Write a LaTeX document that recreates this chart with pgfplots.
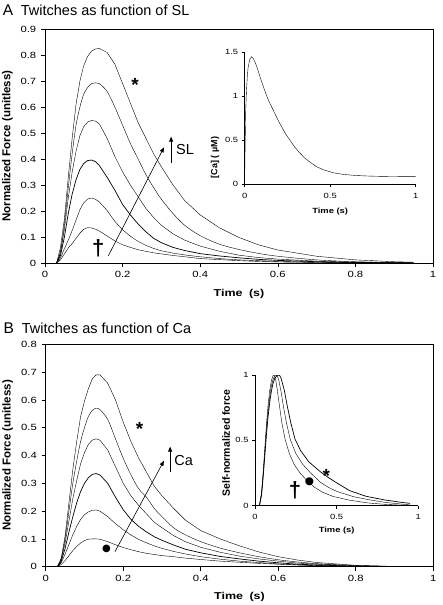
\documentclass[border=0pt]{standalone}
\usepackage{fontspec}
\setmainfont{Liberation Sans}
\newfontfamily\sfs[FakeStretch=1.25]{Liberation Sans}
\newfontfamily\djv{DejaVu Sans}
\usepackage{pgfplots}
\pgfplotsset{compat=1.18}
\usepackage{pgfplotstable}
\usetikzlibrary{arrows.meta}

\pgfplotstableread{
t c1 c2 c3 c4 c5 c6
0.03 0 0 0 0 0 0
0.04 0.012 0.02 0.03 0.04 0.045 0.06
0.05 0.035 0.055 0.10 0.13 0.15 0.17
0.06 0.058 0.088 0.19 0.25 0.29 0.33
0.07 0.075 0.125 0.265 0.35 0.42 0.48
0.08 0.095 0.165 0.32 0.43 0.53 0.61
0.09 0.115 0.205 0.36 0.49 0.60 0.70
0.10 0.13 0.232 0.383 0.525 0.65 0.76
0.11 0.136 0.246 0.394 0.542 0.675 0.795
0.12 0.135 0.25 0.396 0.548 0.69 0.815
0.13 0.13 0.245 0.39 0.546 0.693 0.823
0.14 0.123 0.235 0.375 0.535 0.69 0.825
0.16 0.104 0.202 0.33 0.48 0.66 0.81
0.18 0.085 0.16 0.28 0.41 0.60 0.765
0.20 0.07 0.128 0.225 0.35 0.53 0.69
0.22 0.06 0.103 0.185 0.30 0.46 0.615
0.24 0.051 0.083 0.15 0.255 0.40 0.54
0.26 0.045 0.068 0.12 0.21 0.34 0.48
0.28 0.039 0.056 0.095 0.175 0.29 0.42
0.30 0.035 0.047 0.078 0.145 0.245 0.37
0.33 0.029 0.038 0.06 0.112 0.19 0.30
0.36 0.024 0.031 0.048 0.088 0.145 0.24
0.40 0.017 0.024 0.036 0.065 0.105 0.185
0.45 0.013 0.017 0.027 0.045 0.072 0.135
0.50 0.009 0.012 0.02 0.03 0.052 0.098
0.55 0.006 0.009 0.014 0.021 0.037 0.07
0.60 0.004 0.006 0.01 0.015 0.026 0.05
0.70 0.002 0.003 0.005 0.007 0.012 0.026
0.80 0.001 0.001 0.002 0.003 0.005 0.012
0.90 0 0 0.001 0.001 0.002 0.005
0.95 0 0 0 0 0.001 0.003
}\tabA

\pgfplotstableread{
t c1 c2 c3 c4 c5 c6
0.03 0 0 0 0 0 0
0.04 0.008 0.014 0.02 0.025 0.028 0.03
0.05 0.022 0.045 0.065 0.085 0.10 0.11
0.06 0.04 0.08 0.125 0.165 0.20 0.23
0.07 0.058 0.115 0.18 0.245 0.30 0.35
0.08 0.073 0.145 0.23 0.31 0.38 0.45
0.09 0.085 0.17 0.27 0.37 0.45 0.54
0.10 0.094 0.187 0.30 0.41 0.50 0.595
0.11 0.099 0.197 0.32 0.44 0.54 0.64
0.12 0.1 0.203 0.332 0.455 0.562 0.675
0.13 0.1 0.204 0.335 0.46 0.57 0.69
0.14 0.099 0.2 0.33 0.455 0.565 0.69
0.16 0.09 0.18 0.30 0.42 0.53 0.66
0.18 0.079 0.155 0.25 0.36 0.46 0.60
0.20 0.069 0.133 0.205 0.30 0.39 0.52
0.22 0.061 0.114 0.17 0.255 0.33 0.45
0.24 0.054 0.098 0.145 0.22 0.28 0.39
0.26 0.048 0.086 0.125 0.19 0.25 0.34
0.28 0.044 0.075 0.108 0.16 0.21 0.29
0.30 0.04 0.066 0.095 0.14 0.18 0.255
0.33 0.036 0.055 0.078 0.112 0.14 0.21
0.36 0.031 0.046 0.063 0.09 0.115 0.168
0.40 0.026 0.036 0.05 0.07 0.09 0.13
0.45 0.02 0.027 0.037 0.052 0.067 0.10
0.50 0.016 0.02 0.028 0.038 0.05 0.075
0.55 0.012 0.015 0.02 0.028 0.036 0.053
0.60 0.009 0.01 0.014 0.02 0.025 0.036
0.65 0.006 0.007 0.009 0.013 0.017 0.024
0.70 0.004 0.004 0.006 0.009 0.011 0.015
0.80 0.001 0.001 0.002 0.003 0.004 0.005
0.90 0 0 0 0.001 0.001 0.001
0.95 0 0 0 0 0 0
}\tabB

\pgfplotsset{
  common/.style={
    scale only axis, xmin=0, xmax=1, ymin=0,
    tick align=outside, xtick pos=left, ytick pos=left,
    axis line style={black, line width=0.6pt},
    tick style={black, line width=0.6pt},
    /pgf/number format/assume math mode=true,
    cycle list={{black, solid, line width=0.7pt, no marks, smooth, tension=0.4}},
  },
  mainax/.style={common,
    major tick length=4pt,
    xtick={0,0.2,0.4,0.6,0.8,1},
    ticklabel style={font=\sfs\fontsize{9}{10}\selectfont},
    xticklabel style={yshift=-1pt},
    yticklabel style={xshift=-1.3pt},
    ylabel style={font=\bfseries\fontsize{11.5}{12}\selectfont, anchor=center},
    xlabel style={font=\sfs\bfseries\fontsize{10}{12}\selectfont, anchor=center},
  },
  insetax/.style={common,
    axis x line*=bottom, axis y line*=left,
    major tick length=3pt,
    xtick={0,0.5,1},
    ticklabel style={font=\sfs\fontsize{7.5}{8}\selectfont},
    xticklabel style={yshift=-2.5pt},
    xlabel style={font=\sfs\bfseries\fontsize{7.5}{8}\selectfont, anchor=center},
    ylabel style={anchor=center},
  },
}

\begin{document}
\begin{tikzpicture}
\useasboundingbox (0,0) rectangle (442pt,-605pt);

% Titles
\node[anchor=base west, inner sep=0pt, font=\fontsize{15.5}{16}\selectfont] at (2.7pt,-15pt) {A};
\node[anchor=base west, inner sep=0pt, font=\fontsize{14.5}{16}\selectfont] at (20.7pt,-15pt) {Twitches as function of SL};
\node[anchor=base west, inner sep=0pt, font=\fontsize{15.5}{16}\selectfont] at (3.5pt,-333.3pt) {B};
\node[anchor=base west, inner sep=0pt, font=\fontsize{14.5}{16}\selectfont] at (21.7pt,-333.3pt) {Twitches as function of Ca};

% ---------- Panel A main ----------
\begin{axis}[mainax,
  at={(45pt,-263pt)}, anchor=south west, width=388pt, height=234pt,
  ymax=0.9, ytick={0,0.1,0.2,0.3,0.4,0.5,0.6,0.7,0.8,0.9},
  xlabel={Time\hspace{0.3em} (s)}, ylabel={Normalized Force (unitless)},
  xlabel style={at={([yshift=-31pt]axis description cs:0.5,0)}},
  ylabel style={at={([xshift=-37.5pt]axis description cs:0,0.5)}},
]
\addplot table[x=t,y=c1]{\tabA};
\addplot table[x=t,y=c2]{\tabA};
\addplot table[x=t,y=c3]{\tabA};
\addplot table[x=t,y=c4]{\tabA};
\addplot table[x=t,y=c5]{\tabA};
\addplot table[x=t,y=c6]{\tabA};
\node[font=\bfseries\fontsize{19}{19}\selectfont, yshift=-4pt] at (axis cs:0.232,0.70) {*};
\node[font=\bfseries\fontsize{22}{22}\selectfont] at (axis cs:0.1375,0.0565) {†};
\draw[-{Triangle[length=5pt,width=4pt]}, line width=0.6pt] (axis cs:0.163,0.027) -- (axis cs:0.3067,0.445);
\draw[-{Triangle[length=5pt,width=4pt]}, line width=0.6pt] (axis cs:0.325,0.386) -- (axis cs:0.325,0.486);
\node[font=\fontsize{14.5}{15}\selectfont] at (axis cs:0.361,0.435) {SL};
\end{axis}

% ---------- Panel A inset ----------
\begin{axis}[insetax,
  at={(244.7pt,-184.3pt)}, anchor=south west, width=171pt, height=132pt,
  ymax=1.5, ytick={0,0.5,1,1.5},
  xlabel={Time (s)}, ylabel={[Ca] ( µM)},
  xlabel style={at={([yshift=-27.4pt]axis description cs:0.5,0)}},
  ylabel style={at={([xshift=-29.7pt]axis description cs:0,0.203)}, font=\bfseries\fontsize{9}{10}\selectfont},
]
\addplot+[tension=0.3] coordinates {(0,0.09) (0.003,0.5) (0.006,0.85) (0.01,1.05) (0.015,1.22) (0.02,1.33) (0.03,1.42) (0.04,1.45) (0.05,1.43) (0.06,1.39) (0.07,1.34) (0.08,1.28) (0.09,1.22) (0.10,1.16) (0.12,1.05) (0.14,0.95) (0.16,0.87) (0.18,0.79) (0.20,0.71) (0.22,0.64) (0.24,0.57) (0.265,0.50) (0.29,0.43) (0.32,0.36) (0.35,0.30) (0.38,0.255) (0.42,0.20) (0.46,0.165) (0.52,0.13) (0.58,0.112) (0.65,0.10) (0.72,0.094) (0.80,0.09) (0.90,0.088) (1.0,0.087)};
\end{axis}

% ---------- Panel B main ----------
\begin{axis}[mainax,
  at={(45.7pt,-566.7pt)}, anchor=south west, width=387.6pt, height=222.4pt,
  ymax=0.8, ytick={0,0.1,0.2,0.3,0.4,0.5,0.6,0.7,0.8},
  xlabel={Time\hspace{0.3em} (s)}, ylabel={Normalized Force (unitless)},
  xlabel style={at={([yshift=-30pt]axis description cs:0.5,0)}},
  ylabel style={at={([xshift=-38pt]axis description cs:0,0.5)}},
]
\addplot table[x=t,y=c1]{\tabB};
\addplot table[x=t,y=c2]{\tabB};
\addplot table[x=t,y=c3]{\tabB};
\addplot table[x=t,y=c4]{\tabB};
\addplot table[x=t,y=c5]{\tabB};
\addplot table[x=t,y=c6]{\tabB};
\node[font=\bfseries\fontsize{19}{19}\selectfont, yshift=-4pt] at (axis cs:0.242,0.51) {*};
\node[font=\djv\fontsize{10}{10}\selectfont, inner sep=0pt] at (axis cs:0.157,0.064) {●};
\draw[-{Triangle[length=5pt,width=4pt]}, line width=0.6pt] (axis cs:0.1788,0.054) -- (axis cs:0.305,0.381);
\draw[-{Triangle[length=5pt,width=4pt]}, line width=0.6pt] (axis cs:0.321,0.342) -- (axis cs:0.321,0.432);
\node[font=\fontsize{14.5}{15}\selectfont] at (axis cs:0.356,0.381) {Ca};
\end{axis}

% ---------- Panel B inset ----------
\begin{axis}[insetax,
  at={(255pt,-505.7pt)}, anchor=south west, width=163.3pt, height=130.7pt,
  ymax=1, ytick={0,0.5,1},
  xlabel={Time (s)}, ylabel={Self-normalized force},
  xlabel style={at={([yshift=-25.3pt]axis description cs:0.5,0)}},
  ylabel style={at={([xshift=-29pt]axis description cs:0,0.477)}, font=\bfseries\fontsize{10.5}{11}\selectfont},
]
\addplot coordinates {(0.027,0) (0.04,0.1) (0.05,0.26) (0.06,0.44) (0.07,0.62) (0.08,0.77) (0.09,0.88) (0.10,0.955) (0.11,0.993) (0.117,1.0) (0.125,0.975) (0.135,0.9) (0.149,0.77) (0.165,0.63) (0.184,0.51) (0.21,0.40) (0.24,0.315) (0.276,0.25) (0.32,0.19) (0.36,0.145) (0.41,0.105) (0.48,0.07) (0.58,0.042) (0.7,0.02) (0.8,0.01) (0.9,0.004) (0.95,0.002)};
\addplot coordinates {(0.027,0) (0.04,0.09) (0.05,0.24) (0.06,0.41) (0.07,0.58) (0.08,0.72) (0.09,0.83) (0.10,0.915) (0.11,0.965) (0.12,0.992) (0.133,1.0) (0.145,0.965) (0.16,0.87) (0.174,0.76) (0.19,0.65) (0.215,0.51) (0.25,0.40) (0.29,0.32) (0.337,0.255) (0.40,0.18) (0.45,0.14) (0.50,0.11) (0.60,0.07) (0.70,0.045) (0.80,0.025) (0.90,0.012) (0.95,0.006)};
\addplot coordinates {(0.027,0) (0.04,0.08) (0.05,0.22) (0.06,0.38) (0.07,0.54) (0.08,0.68) (0.09,0.79) (0.10,0.875) (0.11,0.935) (0.12,0.972) (0.135,0.996) (0.149,1.0) (0.16,0.975) (0.18,0.88) (0.198,0.76) (0.22,0.63) (0.245,0.51) (0.28,0.42) (0.33,0.335) (0.40,0.26) (0.45,0.215) (0.50,0.175) (0.58,0.115) (0.68,0.072) (0.79,0.045) (0.9,0.025) (0.95,0.018)};
\node[font=\bfseries\fontsize{19}{19}\selectfont, yshift=-4pt] at (axis cs:0.436,0.257) {*};
\node[font=\djv\fontsize{10.5}{10}\selectfont, inner sep=0pt] at (axis cs:0.333,0.184) {●};
\node[font=\bfseries\fontsize{22}{22}\selectfont] at (axis cs:0.245,0.12) {†};
\end{axis}
\end{tikzpicture}
\end{document}
